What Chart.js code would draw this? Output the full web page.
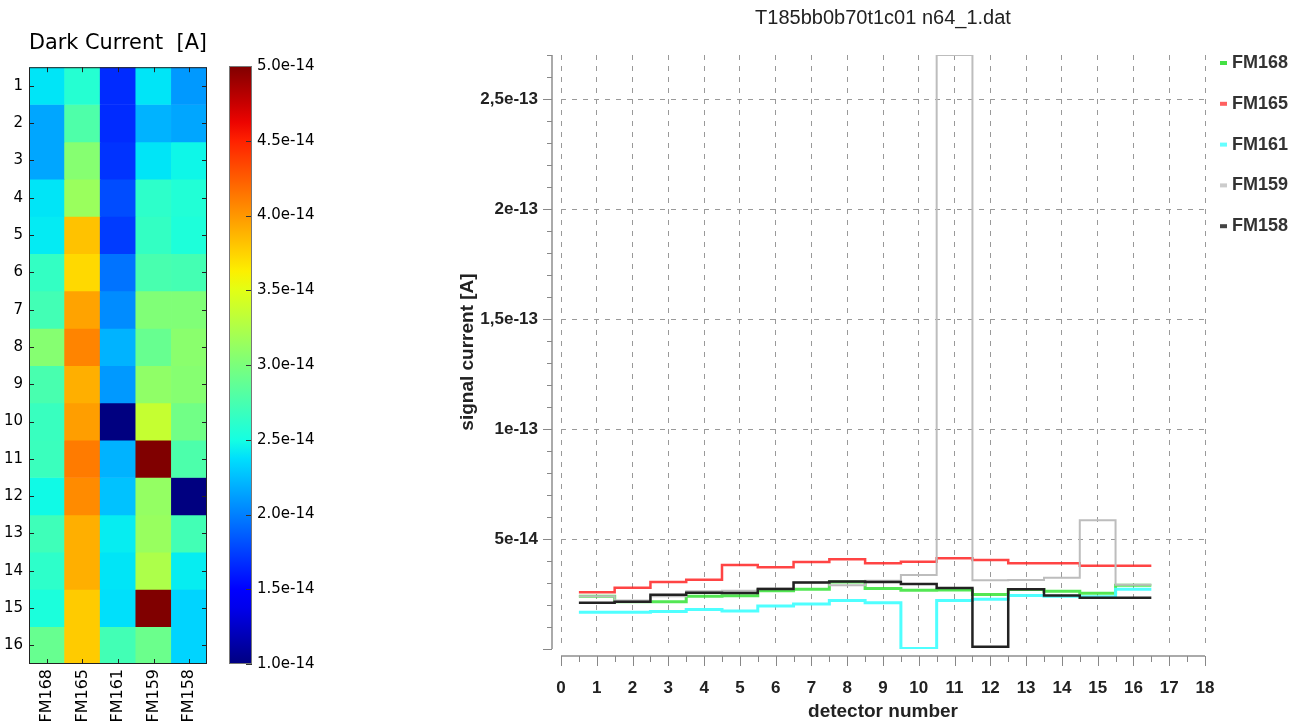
<!DOCTYPE html>
<html>
<head>
<meta charset="utf-8">
<title>Dark current / signal current</title>
<script src="https://cdn.jsdelivr.net/npm/chart.js@4.4.1/dist/chart.umd.min.js"></script>
<style>
  html, body { margin: 0; padding: 0; background: #fff; }
  #wrap { position: relative; width: 1305px; height: 726px; overflow: hidden; }
  .box { position: absolute; top: 0; height: 726px; }
  #heatBox { left: 0; width: 220px; }
  #cbarBox { left: 220px; width: 100px; }
  #lineBox { left: 440px; width: 865px; }
</style>
</head>
<body>
<div id="wrap">
  <div class="box" id="heatBox"><canvas id="heat"></canvas></div>
  <div class="box" id="cbarBox"><canvas id="cbar"></canvas></div>
  <div class="box" id="lineBox"><canvas id="lines"></canvas></div>
</div>
<script>
'use strict';

// ---- data ----
var MODULES = ['FM168', 'FM165', 'FM161', 'FM159', 'FM158'];
var DETECTORS = [1, 2, 3, 4, 5, 6, 7, 8, 9, 10, 11, 12, 13, 14, 15, 16];

var FM168 = [2.40e-14, 2.15e-14, 2.15e-14, 2.40e-14, 2.42e-14, 2.65e-14, 2.72e-14, 3.05e-14,
             2.75e-14, 2.67e-14, 2.68e-14, 2.48e-14, 2.70e-14, 2.62e-14, 2.53e-14, 2.90e-14];
var FM165 = [2.58e-14, 2.78e-14, 3.05e-14, 3.15e-14, 3.82e-14, 3.72e-14, 3.95e-14, 4.08e-14,
             3.90e-14, 3.97e-14, 4.12e-14, 4.05e-14, 3.90e-14, 3.90e-14, 3.78e-14, 3.78e-14];
var FM161 = [1.67e-14, 1.67e-14, 1.70e-14, 1.80e-14, 1.73e-14, 1.95e-14, 2.05e-14, 2.20e-14,
             2.10e-14, 0.02e-14, 2.20e-14, 2.26e-14, 2.43e-14, 2.40e-14, 2.38e-14, 2.72e-14];
var FM159 = [2.40e-14, 2.20e-14, 2.40e-14, 2.62e-14, 2.65e-14, 2.75e-14, 3.02e-14, 2.90e-14,
             3.10e-14, 3.36e-14, 2.70e-13, 3.12e-14, 3.14e-14, 3.24e-14, 5.85e-14, 2.92e-14];
var FM158 = [2.10e-14, 2.15e-14, 2.47e-14, 2.56e-14, 2.54e-14, 2.73e-14, 3.02e-14, 3.07e-14,
             3.05e-14, 2.95e-14, 2.77e-14, 0.10e-14, 2.72e-14, 2.43e-14, 2.33e-14, 2.33e-14];
var SERIES = [FM168, FM165, FM161, FM159, FM158];

var CBAR_MIN = 1.0e-14, CBAR_MAX = 5.0e-14;
var CBAR_TICKS = [1.0e-14, 1.5e-14, 2.0e-14, 2.5e-14, 3.0e-14, 3.5e-14, 4.0e-14, 4.5e-14, 5.0e-14];
var Y_TICKS = [5e-14, 1e-13, 1.5e-13, 2e-13, 2.5e-13];
var X_MIN = 0, X_MAX = 18;
var Y_MIN = 0, Y_MAX = 2.7e-13;

var HEAT_TITLE = 'Dark Current  [A]';
var LINE_TITLE = 'T185bb0b70t1c01 n64_1.dat';

// ---- styles ----
var LINE_COLORS = ['rgba(40,225,40,0.8)', 'rgba(255,35,35,0.85)', 'rgba(70,255,255,0.95)', '#bdbdbd', '#222222'];
var LEGEND_COLORS = ['#44e044', '#ff6060', '#66ffff', '#cccccc', '#444444'];
var LINE_WIDTHS = [3, 2.5, 3, 2, 2.5];
var MPL = 'DejaVu Sans';
var JAVA = 'Liberation Sans';

Chart.defaults.animation = false;
Chart.defaults.plugins.tooltip.enabled = false;
Chart.defaults.plugins.legend.display = false;

// matplotlib "jet"
var JET = {
  r: [[0, 0], [0.35, 0], [0.66, 1], [0.89, 1], [1, 0.5]],
  g: [[0, 0], [0.125, 0], [0.375, 1], [0.64, 1], [0.91, 0], [1, 0]],
  b: [[0, 0.5], [0.11, 1], [0.34, 1], [0.65, 0], [1, 0]]
};
function seg(pts, t) {
  for (var i = 1; i < pts.length; i++) {
    if (t <= pts[i][0]) {
      var p = pts[i - 1], q = pts[i];
      return p[1] + (q[1] - p[1]) * (t - p[0]) / (q[0] - p[0]);
    }
  }
  return pts[pts.length - 1][1];
}
function jet(t) {
  t = Math.max(0, Math.min(1, t));
  return 'rgb(' + Math.round(255 * seg(JET.r, t)) + ',' + Math.round(255 * seg(JET.g, t)) + ',' +
    Math.round(255 * seg(JET.b, t)) + ')';
}
function heatColor(v) { return jet((v - CBAR_MIN) / (CBAR_MAX - CBAR_MIN)); }

// ---- heatmap (one floating-bar dataset per detector row) ----
var heatSets = DETECTORS.map(function (d, r) {
  return {
    label: 'row ' + d,
    data: MODULES.map(function () { return [d - 0.5, d + 0.5]; }),
    backgroundColor: SERIES.map(function (s) { return heatColor(s[r]); }),
    borderWidth: 0,
    barPercentage: 1,
    categoryPercentage: 1,
    grouped: false
  };
});

var heatFrame = {
  id: 'heatFrame',
  afterDraw: function (chart) {
    var c = chart.ctx, a = chart.chartArea, xs = chart.scales.x, ys = chart.scales.y;
    c.save();
    c.strokeStyle = '#222';
    c.lineWidth = 1;
    c.beginPath();
    MODULES.forEach(function (m, i) {
      var px = Math.round(xs.getPixelForValue(i)) + 0.5;
      c.moveTo(px, a.top); c.lineTo(px, a.top + 5);
      c.moveTo(px, a.bottom); c.lineTo(px, a.bottom - 5);
    });
    DETECTORS.forEach(function (d) {
      var py = Math.round(ys.getPixelForValue(d)) + 0.5;
      c.moveTo(a.left, py); c.lineTo(a.left + 5, py);
      c.moveTo(a.right, py); c.lineTo(a.right - 5, py);
    });
    c.stroke();
    c.strokeRect(a.left + 0.5, a.top + 0.5, a.right - a.left - 1, a.bottom - a.top - 1);
    c.restore();
  }
};

new Chart(document.getElementById('heat'), {
  type: 'bar',
  data: { labels: MODULES, datasets: heatSets },
  plugins: [heatFrame],
  options: {
    responsive: true,
    maintainAspectRatio: false,
    layout: { padding: { left: 0, right: 13, top: 0, bottom: 0 } },
    plugins: {
      title: {
        display: true, text: HEAT_TITLE, fullSize: false, color: '#000',
        font: { family: MPL, size: 21, weight: 'normal' },
        padding: { top: 31, bottom: 11 }
      }
    },
    scales: {
      x: {
        grid: { display: false, drawTicks: false },
        border: { display: false },
        ticks: { maxRotation: 90, minRotation: 90, padding: 5, color: '#000', font: { family: MPL, size: 16 } },
        afterFit: function (s) { s.height = 62; }
      },
      y: {
        type: 'linear', reverse: true, min: 0.5, max: 16.5,
        grid: { display: false, drawTicks: false },
        border: { display: false },
        afterBuildTicks: function (s) { s.ticks = DETECTORS.map(function (d) { return { value: d }; }); },
        ticks: { padding: 6, color: '#000', autoSkip: false, font: { family: MPL, size: 15 } },
        afterFit: function (s) { s.width = 29; }
      }
    }
  }
});

// ---- colour bar ----
var cbarTicks = {
  id: 'cbarTicks',
  afterDraw: function (chart) {
    var c = chart.ctx, a = chart.chartArea, ys = chart.scales.y;
    c.save();
    c.strokeStyle = '#333';
    c.lineWidth = 1;
    c.beginPath();
    CBAR_TICKS.forEach(function (v) {
      var py = Math.round(ys.getPixelForValue(v)) + 0.5;
      c.moveTo(a.right, py); c.lineTo(a.right - 6, py);
    });
    c.stroke();
    c.strokeStyle = '#777';
    c.strokeRect(a.left + 0.5, a.top + 0.5, a.right - a.left - 1, a.bottom - a.top - 1);
    c.restore();
  }
};

new Chart(document.getElementById('cbar'), {
  type: 'bar',
  data: {
    labels: ['cbar'],
    datasets: [{
      data: [[CBAR_MIN, CBAR_MAX]],
      borderWidth: 0,
      barPercentage: 1,
      categoryPercentage: 1,
      backgroundColor: function (ctx) {
        var a = ctx.chart.chartArea;
        if (!a) return 'rgba(0,0,0,0)';
        var g = ctx.chart.ctx.createLinearGradient(0, a.bottom, 0, a.top);
        for (var i = 0; i <= 32; i++) g.addColorStop(i / 32, jet(i / 32));
        return g;
      }
    }]
  },
  plugins: [cbarTicks],
  options: {
    responsive: true,
    maintainAspectRatio: false,
    layout: { padding: { left: 9, right: 0, top: 66, bottom: 62 } },
    scales: {
      x: { display: false },
      y: {
        position: 'right', min: CBAR_MIN, max: CBAR_MAX,
        grid: { display: false, drawTicks: false },
        border: { display: false },
        afterBuildTicks: function (s) { s.ticks = CBAR_TICKS.map(function (v) { return { value: v }; }); },
        ticks: {
          padding: 5, color: '#000', font: { family: MPL, size: 15 },
          callback: function (v) { return Number(v).toExponential(1); }
        },
        afterFit: function (s) { s.width = 68; }
      }
    }
  }
});

// ---- step lines ----
var lineSets = MODULES.map(function (m, k) {
  var vals = SERIES[k];
  var pts = vals.map(function (v, i) { return { x: DETECTORS[i] - 0.5, y: v }; });
  pts.push({ x: DETECTORS[vals.length - 1] + 0.5, y: vals[vals.length - 1] });
  return {
    label: m,
    data: pts,
    stepped: 'before',
    borderColor: LINE_COLORS[k],
    backgroundColor: LEGEND_COLORS[k],
    borderWidth: LINE_WIDTHS[k],
    pointRadius: 0,
    fill: false,
    order: MODULES.length - 1 - k
  };
});

function sciComma(v) {
  return Number(Number(v).toPrecision(3)).toExponential().replace('.', ',');
}

var lineFrame = {
  id: 'lineFrame',
  afterDraw: function (chart) {
    var c = chart.ctx, a = chart.chartArea, xs = chart.scales.x, ys = chart.scales.y;
    var axX = a.left - 9, axY = a.bottom + 7, v;
    c.save();
    c.strokeStyle = '#aaa';
    c.lineWidth = 2;
    c.beginPath();
    c.moveTo(axX, a.top); c.lineTo(axX, a.bottom);
    c.moveTo(xs.getPixelForValue(xs.min), axY); c.lineTo(xs.getPixelForValue(xs.max), axY);
    c.stroke();
    c.strokeStyle = '#888';
    c.lineWidth = 1;
    c.beginPath();
    for (v = xs.min; v <= xs.max; v += 0.5) {
      var px = Math.round(xs.getPixelForValue(v)) + 0.5;
      c.moveTo(px, axY); c.lineTo(px, axY + (v % 1 === 0 ? 10 : 6));
    }
    for (var k = 0; k * 1e-14 <= ys.max + 1e-16; k++) {
      var py = Math.round(ys.getPixelForValue(k * 1e-14)) + 0.5;
      c.moveTo(axX, py); c.lineTo(axX - (k % 5 === 0 ? 9 : 5), py);
    }
    c.stroke();
    // legend
    c.font = 'bold 18px "' + JAVA + '"';
    c.textBaseline = 'middle';
    chart.data.datasets.forEach(function (ds, i) {
      var ly = a.top + 8 + i * 40.8;
      c.fillStyle = ds.backgroundColor;
      c.fillRect(a.right + 15, ly - 2, 7, 4);
      c.fillStyle = '#333';
      c.fillText(ds.label, a.right + 27, ly);
    });
    c.restore();
  }
};

new Chart(document.getElementById('lines'), {
  type: 'line',
  data: { datasets: lineSets },
  plugins: [lineFrame],
  options: {
    responsive: true,
    maintainAspectRatio: false,
    layout: { padding: { left: 12, right: 100, top: 0, bottom: 0 } },
    plugins: {
      title: {
        display: true, text: LINE_TITLE, fullSize: false, color: '#222',
        font: { family: JAVA, size: 20, weight: 'normal' },
        padding: { top: 6, bottom: 25 }
      }
    },
    scales: {
      x: {
        type: 'linear', min: X_MIN, max: X_MAX,
        grid: { color: '#999', drawTicks: false },
        border: { display: false, dash: [5, 6] },
        ticks: { stepSize: 1, padding: 29, color: '#222', font: { family: JAVA, size: 17, weight: 'bold' } },
        title: {
          display: true, text: 'detector number', color: '#222',
          font: { family: JAVA, size: 19, weight: 'bold' }, padding: { top: 4, bottom: 3 }
        },
        afterFit: function (s) { s.height = 77; }
      },
      y: {
        type: 'linear', min: Y_MIN, max: Y_MAX,
        grid: { color: '#999', drawTicks: false },
        border: { display: false, dash: [5, 6] },
        afterBuildTicks: function (s) { s.ticks = Y_TICKS.map(function (v) { return { value: v }; }); },
        ticks: { padding: 23, color: '#222', font: { family: JAVA, size: 17, weight: 'bold' }, callback: sciComma },
        title: {
          display: true, text: 'signal current [A]', color: '#222',
          font: { family: JAVA, size: 19, weight: 'bold' }
        },
        afterFit: function (s) { s.width = 109; }
      }
    }
  }
});
</script>
</body>
</html>
